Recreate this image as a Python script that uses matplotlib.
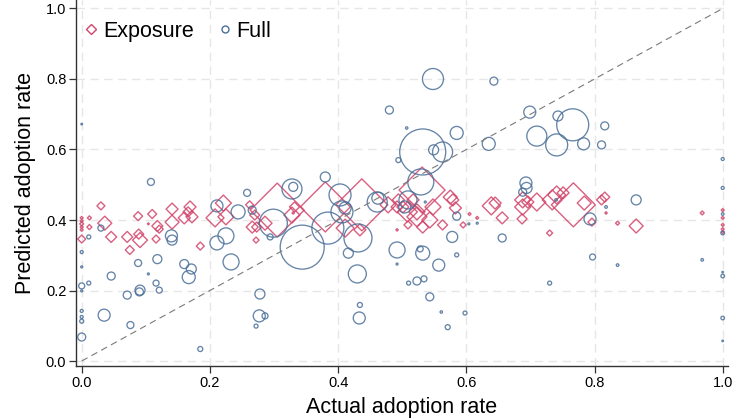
import numpy as np
import matplotlib
matplotlib.use("Agg")
import matplotlib.pyplot as plt
from matplotlib.lines import Line2D

# ---------------- data ----------------
# Full model: actual rate, predicted rate, marker weight (radius, px)
full_x = [0.480, 0.494, 0.108, 0.258, 0.380, 0.328, 0.330, 0.000, 0.548, 0.643,
          0.699, 0.743, 0.766, 0.816, 0.710, 0.741, 0.783, 0.811, 0.507, 0.532,
          0.549, 0.563, 0.585, 0.635, 0.529, 0.693, 0.694, 0.688, 0.865, 0.793,
          0.656, 0.578, 0.585, 0.504, 0.492, 0.532, 0.528, 0.557, 0.585, 0.523,
          0.534, 0.510, 0.543, 0.561, 0.571, 0.598, 0.730, 0.797, 0.836, 0.968,
          1.000, 1.000, 1.000, 1.000, 1.000, 1.000, 1.000, 1.000, 0.536, 0.604,
          0.617, 0.818, 0.740, 0.431, 0.430, 0.492, 0.416, 0.434, 0.433, 0.344,
          0.299, 0.384, 0.406, 0.411, 0.403, 0.461, 0.462, 0.509, 0.294, 0.266,
          0.211, 0.244, 0.211, 0.225, 0.233, 0.278, 0.277, 0.286, 0.272, 0.185,
          0.160, 0.171, 0.167, 0.140, 0.141, 0.088, 0.118, 0.104, 0.071, 0.091,
          0.090, 0.116, 0.121, 0.046, 0.035, 0.076, 0.030, 0.011, 0.000, 0.000,
          0.000, 0.011, 0.000, 0.000, 0.000, 0.000, 0.000]
full_y = [0.712, 0.570, 0.508, 0.477, 0.522, 0.488, 0.494, 0.672, 0.800, 0.794,
          0.706, 0.695, 0.670, 0.667, 0.638, 0.613, 0.616, 0.613, 0.661, 0.593,
          0.599, 0.593, 0.647, 0.616, 0.508, 0.505, 0.491, 0.479, 0.457, 0.403,
          0.349, 0.352, 0.411, 0.437, 0.315, 0.306, 0.318, 0.272, 0.301, 0.227,
          0.233, 0.221, 0.182, 0.139, 0.096, 0.136, 0.221, 0.295, 0.272, 0.287,
          0.573, 0.491, 0.417, 0.363, 0.241, 0.252, 0.122, 0.057, 0.451, 0.389,
          0.391, 0.437, 0.457, 0.349, 0.247, 0.275, 0.306, 0.159, 0.122, 0.323,
          0.391, 0.377, 0.423, 0.434, 0.471, 0.451, 0.462, 0.457, 0.352, 0.428,
          0.440, 0.423, 0.335, 0.355, 0.281, 0.190, 0.128, 0.128, 0.099, 0.034,
          0.275, 0.261, 0.238, 0.355, 0.343, 0.278, 0.289, 0.247, 0.187, 0.201,
          0.196, 0.221, 0.201, 0.241, 0.130, 0.102, 0.377, 0.352, 0.309, 0.267,
          0.213, 0.221, 0.199, 0.142, 0.125, 0.113, 0.068]
full_w = [4, 2.5, 3.5, 3.5, 5, 10, 4.5, 0.8, 10.5, 4,
          6, 5, 16, 4, 10, 11, 6, 4, 1.2, 23,
          5, 10, 6.5, 6.5, 13, 6, 5.5, 4, 5, 6,
          4, 5.5, 4, 6, 8, 7, 3, 6, 2, 4,
          3, 2, 4, 1.2, 2.5, 2, 2, 3, 1.3, 1.3,
          1.5, 1.5, 1.3, 1.8, 1.8, 0.8, 1.8, 0.8, 1, 1,
          1, 1.3, 1.3, 14, 9, 1, 5, 2.5, 6, 22,
          14, 16, 11, 6, 11, 10, 6, 9, 3, 4,
          6, 7, 7, 8, 8, 5, 6, 3, 2, 2.5,
          4.5, 5, 6.5, 6, 5, 3.5, 4.5, 1, 4, 5,
          4, 3, 3, 4, 6, 3.5, 3, 2, 1.5, 1,
          3, 2, 1, 1.5, 1.5, 2, 4]

# Exposure model: actual rate, predicted rate, marker weight (half-diagonal, px)
expo_x = [0.000, 0.000, 0.000, 0.000, 0.000, 0.000, 0.012, 0.012, 0.030, 0.036,
          0.046, 0.071, 0.088, 0.091, 0.089, 0.110, 0.075, 0.116, 0.118, 0.121,
          0.104, 0.141, 0.141, 0.169, 0.160, 0.172, 0.166, 0.185, 0.208, 0.221,
          0.225, 0.262, 0.272, 0.273, 0.266, 0.286, 0.270, 0.305, 0.330, 0.328,
          0.332, 0.380, 0.437, 0.411, 0.434, 0.492, 0.478, 0.492, 0.508, 0.523,
          0.517, 0.494, 0.531, 0.575, 0.579, 0.548, 0.501, 0.523, 0.543, 0.532,
          0.563, 0.595, 0.605, 0.617, 0.639, 0.645, 0.656, 0.688, 0.688, 0.696,
          0.687, 0.710, 0.734, 0.741, 0.751, 0.767, 0.784, 0.730, 0.811, 0.816,
          0.796, 0.836, 0.818, 0.865, 0.968, 1.000, 1.000, 1.000, 1.000, 1.000,
          0.583, 0.509]
expo_y = [0.406, 0.397, 0.389, 0.380, 0.372, 0.346, 0.406, 0.380, 0.440, 0.391,
          0.352, 0.352, 0.411, 0.343, 0.360, 0.417, 0.315, 0.346, 0.383, 0.374,
          0.389, 0.431, 0.394, 0.437, 0.406, 0.409, 0.423, 0.326, 0.406, 0.448,
          0.409, 0.443, 0.343, 0.380, 0.380, 0.391, 0.414, 0.428, 0.420, 0.414,
          0.437, 0.437, 0.443, 0.377, 0.372, 0.372, 0.443, 0.437, 0.423, 0.423,
          0.457, 0.457, 0.485, 0.465, 0.457, 0.437, 0.437, 0.409, 0.400, 0.380,
          0.386, 0.386, 0.417, 0.406, 0.440, 0.448, 0.406, 0.457, 0.437, 0.451,
          0.403, 0.451, 0.457, 0.471, 0.477, 0.443, 0.448, 0.363, 0.457, 0.465,
          0.394, 0.391, 0.420, 0.383, 0.420, 0.428, 0.406, 0.386, 0.374, 0.366,
          0.434, 0.386]
expo_w = [1.5, 1.5, 2, 1.5, 1.5, 4, 2, 2.5, 4, 7,
          5.5, 5.5, 4.5, 7.5, 5, 4.5, 4.5, 4, 5.5, 4,
          1, 6, 7, 6, 6, 6, 5, 4, 9, 8,
          8, 4, 3, 5, 6, 7, 5, 27, 1.2, 8,
          5, 25, 26, 9, 6, 1.2, 8, 6, 10, 8,
          6, 6, 23, 7, 6, 8, 6, 10, 8, 6,
          5, 3, 1.5, 1.5, 9, 6, 6, 8, 8, 6,
          5, 9, 10, 9, 6, 22, 7, 3, 5, 5,
          4, 2, 1.2, 7, 2, 1.5, 1.5, 1.5, 1.5, 1.5,
          6, 4]

x_ticks = [0.0, 0.2, 0.4, 0.6, 0.8, 1.0]
y_ticks = [0.0, 0.2, 0.4, 0.6, 0.8, 1.0]

# ---------------- style ----------------
RED = "#d2446a"
BLUE = "#4a6f98"
W, H, DPI = 737, 419, 100

fig = plt.figure(figsize=(W / DPI, H / DPI), dpi=DPI)
ax = fig.add_axes([76 / W, (H - 366) / H, (728 - 76) / W, 366 / H])

px2pt = 72.0 / DPI
circ_s = [(2 * r * px2pt) ** 2 for r in full_w]
diam_s = [(r * px2pt / 0.7071) ** 2 for r in expo_w]

# grid
for t in x_ticks:
    ax.axvline(t, color="#e6e6e6", lw=1.0, ls=(0, (6, 4)), zorder=0)
for t in y_ticks:
    ax.axhline(t, color="#e6e6e6", lw=1.0, ls=(0, (6, 4)), zorder=0)

ax.scatter(expo_x, expo_y, s=diam_s, marker="D", facecolors="none",
           edgecolors=RED, linewidths=1.0, alpha=0.85, zorder=2)
ax.scatter(full_x, full_y, s=circ_s, marker="o", facecolors="none",
           edgecolors=BLUE, linewidths=0.95, alpha=0.85, zorder=3)

ax.plot([0, 1], [0, 1], color="#7a7a7a", lw=0.8, ls=(0, (6, 4)), zorder=4)

ax.set_xlim((76 - 81.7) / 641, (728 - 81.7) / 641)
ax.set_ylim((361 - 366) / 352.5, 361 / 352.5)

ax.set_xticks(x_ticks)
ax.set_yticks(y_ticks)
ax.set_xticklabels([f"{t:.1f}" for t in x_ticks])
ax.set_yticklabels([f"{t:.1f}" for t in y_ticks])

tick_font = ["Liberation Sans Narrow", "Liberation Sans", "DejaVu Sans"]
for lab in ax.get_xticklabels() + ax.get_yticklabels():
    lab.set_family(tick_font)
    lab.set_fontsize(10.5)
ax.tick_params(axis="both", direction="out", length=5, width=0.9,
               color="#333333", pad=2)

for side in ["top", "right"]:
    ax.spines[side].set_visible(False)
for side in ["left", "bottom"]:
    ax.spines[side].set_color("#333333")
    ax.spines[side].set_linewidth(1.0)

lab_font = ["Liberation Sans", "DejaVu Sans"]
ax.set_xlabel("Actual adoption rate", fontsize=15.5, family=lab_font, labelpad=5)
ax.set_ylabel("Predicted adoption rate", fontsize=15.5, family=lab_font, labelpad=7)

handles = [
    Line2D([], [], marker="D", ls="none", markersize=5, markerfacecolor="none",
           markeredgecolor=RED, markeredgewidth=1.0),
    Line2D([], [], marker="o", ls="none", markersize=5, markerfacecolor="none",
           markeredgecolor=BLUE, markeredgewidth=1.0),
]
leg = ax.legend(handles, ["Exposure", "Full"], loc="upper left", ncol=2,
                frameon=False, prop={"family": lab_font, "size": 15.5},
                handlelength=0.6, handletextpad=0.25, columnspacing=1.15,
                bbox_to_anchor=(-0.01, 0.985), borderaxespad=0.3)

fig.savefig("out.png", dpi=DPI)
